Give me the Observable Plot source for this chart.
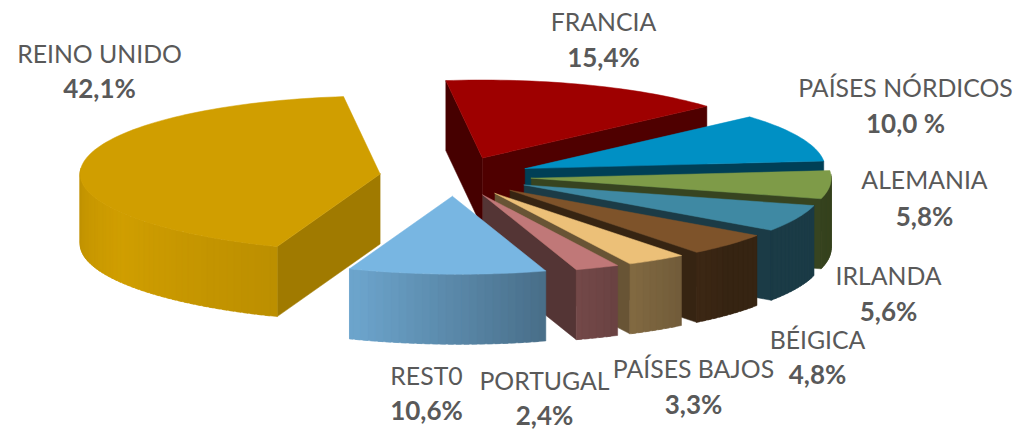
<!DOCTYPE html>
<html>
<head>
<meta charset="utf-8">
<script src="https://cdn.jsdelivr.net/npm/d3@7"></script>
<script src="https://cdn.jsdelivr.net/npm/@observablehq/plot@0.6"></script>
<style>html,body{margin:0;padding:0;background:#fff}svg{display:block}</style>
</head>
<body>
<div id="chart"></div>
<script>
// Data, clockwise from the top of the pie
const categories = ["FRANCIA","PAÍSES NÓRDICOS","ALEMANIA","IRLANDA","BÉIGICA","PAÍSES BAJOS","PORTUGAL","REST0","REINO UNIDO"];
const shares = [15.4,10.0,5.8,5.6,4.8,3.3,2.4,10.6,42.1];
const shareLabels = ["15,4%","10,0 %","5,8%","5,6%","4,8%","3,3%","2,4%","10,6%","42,1%"];
const topColors = ["#9E0000","#0090C4","#7E9B48","#3F89A3","#7E532A","#ECC078","#C07878","#78B6E2","#D09E00"];
// Style of the side faces
const endWallTones = [0.5,0.44,0.44,0.43,0.43,0.44,0.44,0.5,0.5];
const startWallTones = [0.44,0.44,0.44,0.44,0.44,0.44,0.44,0.5,0.77];
const lightAngles = [0,135,163,200,240,280,360];
const lightTones = [0.43,0.43,0.6,0.9,1,0.9,0.9];
// Label placement
const labelX = [603,905,924,888,817,693,544,426,99];
const nameY = [31,97,189,285,349,378,390,385,63];
const shareY = [67,133,226,321,384,414,425,420,98];

// Pie projection
const W = 1019, H = 432;
const cx = 455, cy = 176, R = 300, tilt = 0.26, depth = 70, explode = 76, rotation = -7, skew = 0.1;
const rad = d => d * Math.PI / 180;
const tone = d3.scaleLinear(lightAngles, lightTones).clamp(true);
const shade = (c, f) => { const r = d3.rgb(c); return d3.rgb(r.r*f, r.g*f, r.b*f).formatHex(); };

const points = [];
let faceCount = 0;
function addFace(pts, color) {
  const id = faceCount++;
  [...pts, pts[0]].forEach(([x, y]) => points.push({id, x, y, color}));
}
function rim(apex, a) {
  const dx = R * Math.sin(rad(a)), dy = -R * tilt * Math.cos(rad(a));
  const shift = dy > 0 ? skew * dy * dy / 78 : 0;
  return [apex[0] + dx + shift, apex[1] + dy];
}
const ends = d3.cumsum(shares).map(v => rotation + v * 3.6);
const slices = categories.map((name, i) => {
  const a0 = i ? ends[i-1] : rotation, a1 = ends[i], mid = (a0 + a1) / 2;
  return {i, a0, a1, apex: [cx + explode * Math.sin(rad(mid)), cy - explode * tilt * Math.cos(rad(mid))]};
});
// Painter's order: back slices first, the largest before the front one
[0,1,2,3,4,5,6,8,7].forEach(k => {
  const {i, a0, a1, apex} = slices[k], color = topColors[i];
  const [ax, ay] = apex, steps = d3.range(a0, a1, 1.5).concat(a1);
  if (Math.sin(rad(a0)) < 0) {
    const p = rim(apex, a0);
    addFace([[ax,ay],p,[p[0],p[1]+depth],[ax,ay+depth]], shade(color, startWallTones[i]));
  }
  if (Math.sin(rad(a1)) > 0) {
    const p = rim(apex, a1);
    addFace([[ax,ay],p,[p[0],p[1]+depth],[ax,ay+depth]], shade(color, endWallTones[i]));
  }
  d3.pairs(steps).forEach(([s, t]) => {
    if (Math.cos(rad((s+t)/2)) < 0.05) {
      const p = rim(apex, s), q = rim(apex, Math.min(t + 1, a1));
      addFace([p,q,[q[0],q[1]+depth],[p[0],p[1]+depth]], shade(color, tone((s+t)/2)));
    }
  });
  addFace([[ax,ay], ...steps.map(a => rim(apex, a))], color);
});

const labels = categories.map((name, i) => ({name, share: shareLabels[i], x: labelX[i], yName: nameY[i], yShare: shareY[i]}));
const font = "Lato, 'Open Sans', sans-serif";

const chart = Plot.plot({
  width: W, height: H,
  margin: 0,
  x: {domain: [0, W], range: [0, W], axis: null},
  y: {domain: [0, H], range: [0, H], axis: null},
  color: {type: "identity"},
  style: {background: "#fff"},
  marks: [
    Plot.line(points, {x: "x", y: "y", z: "id", fill: "color", stroke: "color", strokeWidth: 0.5, curve: "linear"}),
    Plot.text(labels, {x: "x", y: "yName", text: "name", fill: "#595959", fontSize: 24.8, fontFamily: font, textAnchor: "middle", lineAnchor: "bottom", dy: -1}),
    Plot.text(labels, {x: "x", y: "yShare", text: "share", fill: "#595959", fontSize: 26, fontWeight: 700, fontFamily: font, textAnchor: "middle", lineAnchor: "bottom", dy: -1})
  ]
});
document.getElementById("chart").append(chart);
</script>
</body>
</html>
